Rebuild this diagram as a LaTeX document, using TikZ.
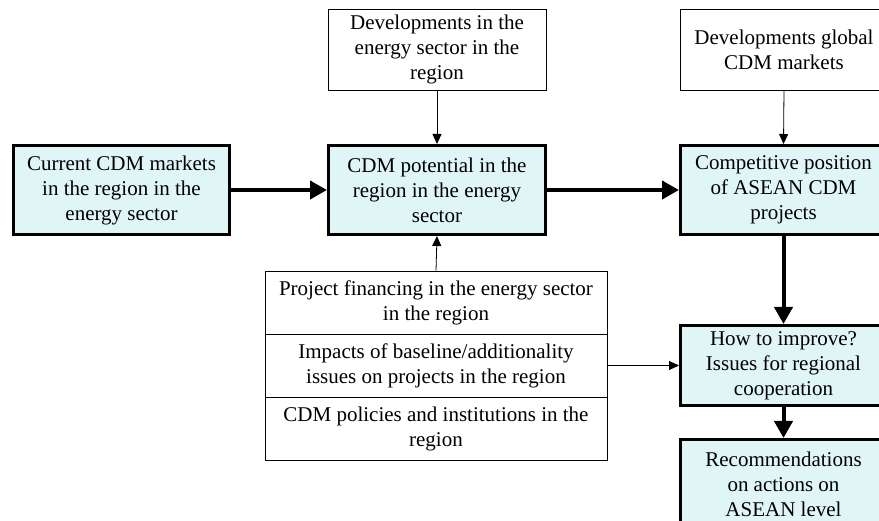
\documentclass[tikz,border=0pt]{standalone}
\usepackage{fontspec}
\setmainfont{Liberation Serif}
\usetikzlibrary{arrows.meta,positioning}
\definecolor{boxfill}{RGB}{224,246,246}

\begin{document}
\begin{tikzpicture}[x=1pt,y=-1pt,
  mainbox/.style={draw,line width=3pt,fill=boxfill,align=center,inner sep=0pt,
    minimum height=89pt,font=\fontsize{21}{25}\selectfont},
  sidebox/.style={draw,line width=0.8pt,fill=white,align=center,inner sep=0pt,
    font=\fontsize{21}{25}\selectfont},
  bigarrow/.style={line width=4pt,-{Triangle[length=17pt,width=18pt]}},
  smallarrow/.style={line width=0.8pt,-{Triangle[length=10pt,width=9pt]}}]
  \useasboundingbox (0,0) rectangle (879,521);
  \clip (0,0) rectangle (879,521);

  \node[mainbox,minimum width=216pt] (cur) at (121.5,190) {Current CDM markets\\in the region in the\\energy sector};
  \node[mainbox,minimum width=217pt] (pot) at (437,190) {CDM potential in the\\region in the energy\\sector};
  \node[mainbox,minimum width=206pt] (comp) at (783.5,190) {Competitive position\\of ASEAN CDM\\projects};
  \node[mainbox,minimum width=206pt,minimum height=80pt] (how) at (783.5,365.5) {How to improve?\\Issues for regional\\cooperation};
  \node[mainbox,minimum width=206pt] (rec) at (783.5,484) {Recommendations\\on actions on\\ASEAN level};

  \node[sidebox,minimum width=218pt,minimum height=81pt] (deve) at (437,49.5) {Developments in the\\energy sector in the\\region};
  \node[sidebox,minimum width=208pt,minimum height=81pt] (devg) at (784,49.5) {Developments global\\CDM markets};

  \node[sidebox,minimum width=342pt,minimum height=63pt] (fin) at (436,302.5) {Project financing in the energy sector\\in the region};
  \node[sidebox,minimum width=342pt,minimum height=63pt] (base) at (436,365.5) {Impacts of baseline/additionality\\issues on projects in the region};
  \node[sidebox,minimum width=342pt,minimum height=63pt] (pol) at (436,428.5) {CDM policies and institutions in the\\region};

  \draw[bigarrow] (cur.east) -- (pot.west);
  \draw[bigarrow] (pot.east) -- (comp.west);
  \draw[bigarrow] (comp.south) -- (how.north);
  \draw[bigarrow] (how.south) -- (rec.north);

  \draw[smallarrow] (deve.south) -- (pot.north);
  \draw[smallarrow] (fin.north) -- (pot.south);
  \draw[smallarrow] (devg.south) -- (comp.north);
  \draw[smallarrow] (base.east) -- (how.west);
\end{tikzpicture}
\end{document}
